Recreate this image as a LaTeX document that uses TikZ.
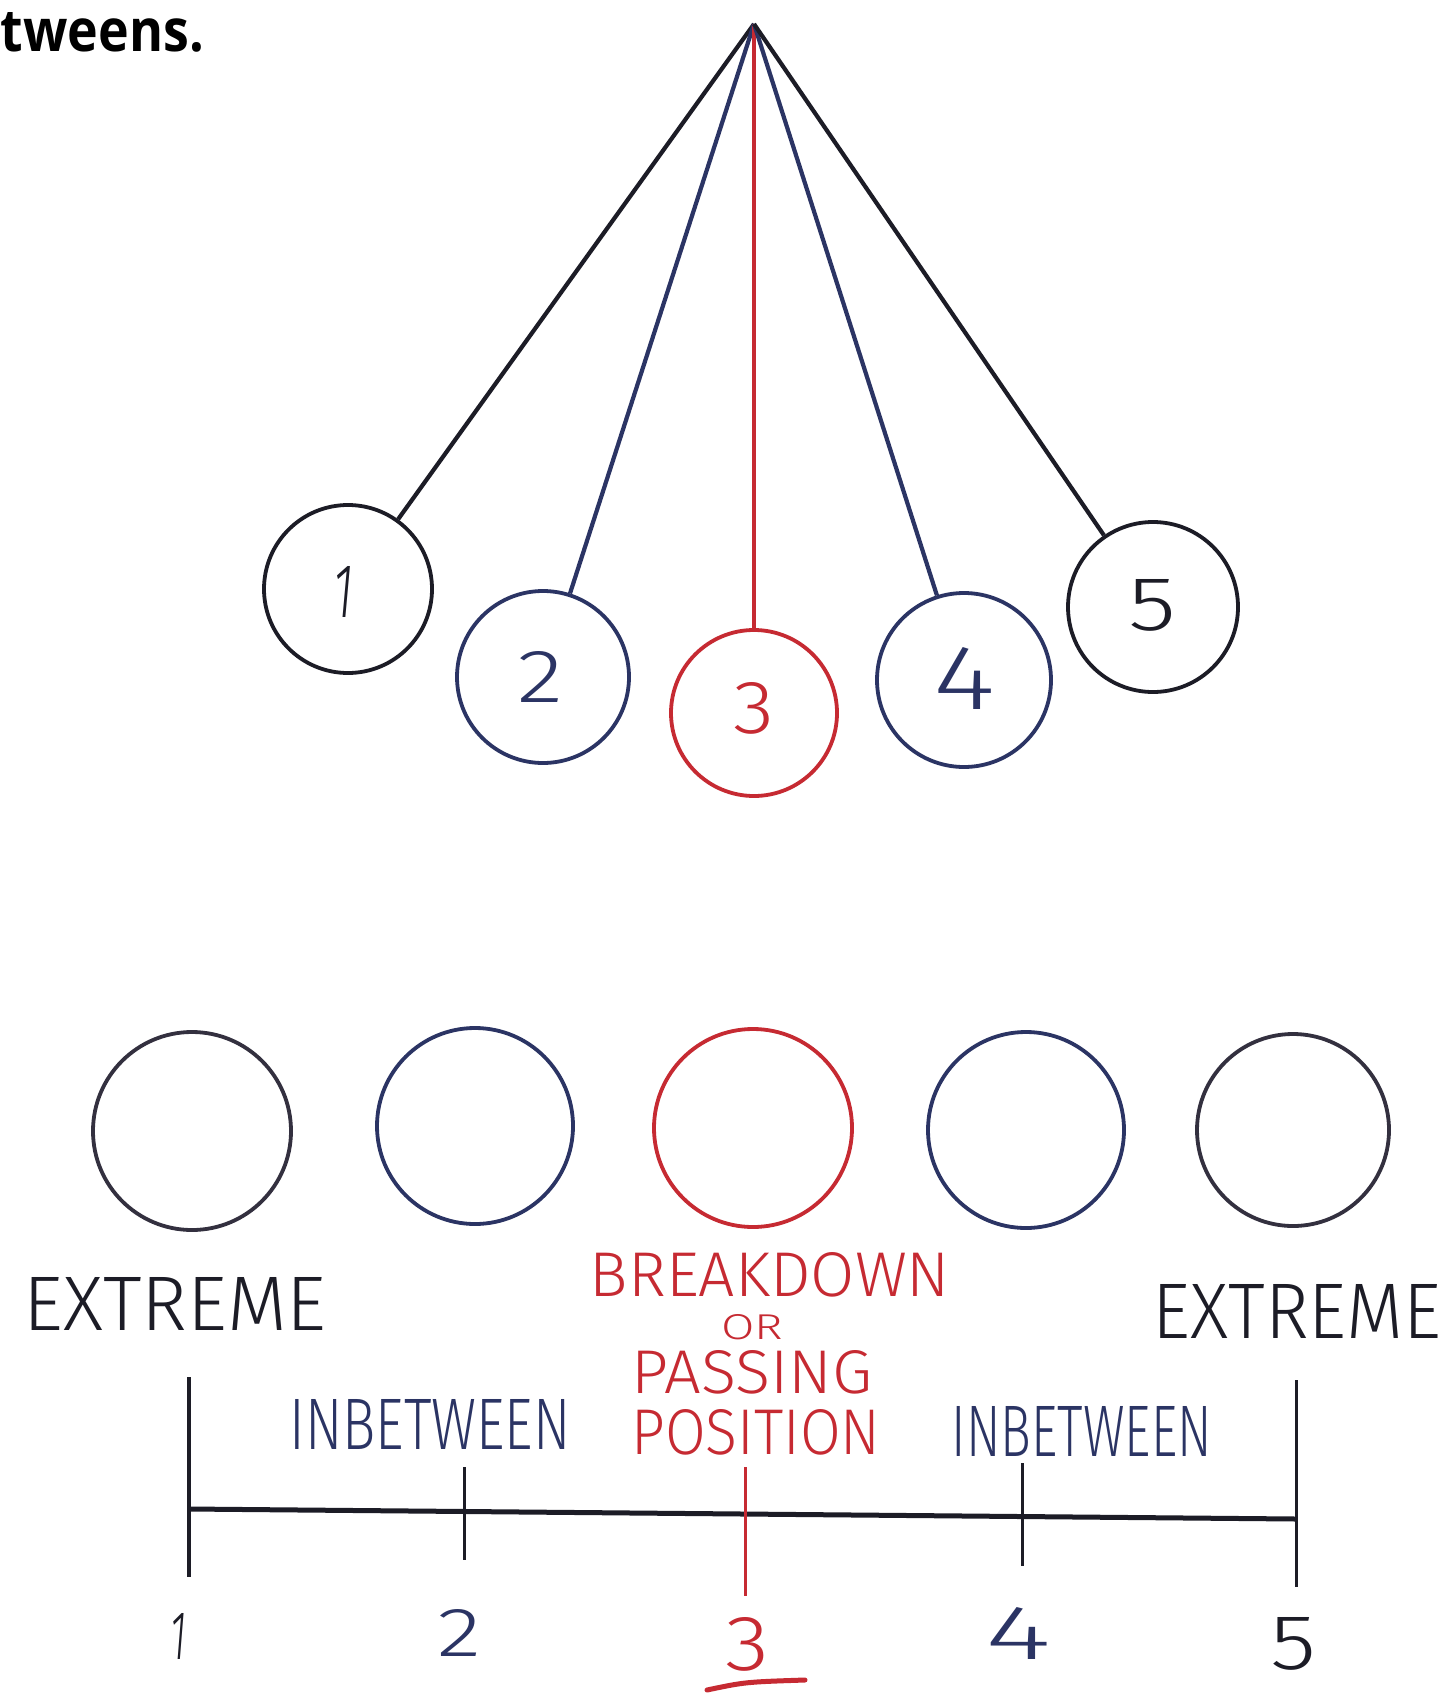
\documentclass[tikz,border=0pt]{standalone}
\usepackage{fontspec}
\newfontfamily\hand{Fira Sans}[UprightFont=* Light, ItalicFont=* Light Italic]
\newfontfamily\bodyfont{Open Sans}
\definecolor{pblack}{HTML}{1C1C26}
\definecolor{pnavy}{HTML}{2B3464}
\definecolor{pred}{HTML}{C62A32}
\definecolor{pgrey}{HTML}{33303F}
\newcommand{\fitbox}[3]{\resizebox{#1pt}{#2pt}{\hand #3}}
\begin{document}
\begin{tikzpicture}[x=1pt,y=-1pt,
  ball/.style={circle, draw, line width=3.8pt, inner sep=0pt},
  cord/.style={line width=4.2pt},
  lab/.style={inner sep=0pt, outer sep=0pt},
  tick/.style={line width=3pt}]
\useasboundingbox (0,0) rectangle (1447,1693);
\fill[white] (0,0) rectangle (1447,1693);
% caption fragment
\node[lab, anchor=south west] (cap) at (1,52) {\resizebox{203pt}{39pt}{\bodyfont\bfseries tweens.}};
% pendulum
\coordinate (pv) at (754,24);
\node[ball, draw=pblack, text=pblack, minimum size=168pt] (b1) at (348,589) {};
\node[ball, draw=pnavy, text=pnavy, minimum size=172pt] (b2) at (543,677) {};
\node[ball, draw=pred, text=pred, minimum size=166pt] (b3) at (754,713) {};
\node[ball, draw=pnavy, text=pnavy, minimum size=174pt] (b4) at (964,680) {};
\node[ball, draw=pblack, text=pblack, minimum size=170pt] (b5) at (1153,607) {};
\draw[cord, pblack] (pv) -- (b1);
\draw[cord, pnavy] (pv) -- (b2);
\draw[cord, pred] (pv) -- (b3);
\draw[cord, pnavy] (pv) -- (b4);
\draw[cord, pblack] (pv) -- (b5);
\node[lab, text=pblack] (n1) at (343,592) {\fitbox{20}{51}{\itshape 1}};
\node[lab, text=pnavy] (n2) at (540,677) {\fitbox{46}{51}{2}};
\node[lab, text=pred] (n3) at (754,708) {\fitbox{41}{51}{3}};
\node[lab, text=pnavy] (n4) at (964,678) {\fitbox{62}{62}{4}};
\node[lab, text=pblack] (n5) at (1152,605) {\fitbox{48}{51}{5}};
% row of circles
\node[ball, draw=pgrey, minimum size=198pt] (c1) at (192,1131) {};
\node[ball, draw=pnavy, minimum size=196pt] (c2) at (475,1126) {};
\node[ball, draw=pred, minimum size=198pt] (c3) at (753,1128) {};
\node[ball, draw=pnavy, minimum size=196pt] (c4) at (1026,1130) {};
\node[ball, draw=pgrey, minimum size=192pt] (c5) at (1293,1130) {};
% labels
\node[lab, text=pblack] (ex1) at (175,1304) {\fitbox{303}{53}{EXTREME}};
\node[lab, text=pblack] (ex2) at (1297,1311) {\fitbox{289}{54}{EXTREME}};
\node[lab, text=pred] (bd) at (770,1275) {\fitbox{360}{44}{BREAKDOWN}};
\node[lab, text=pred] (or) at (752,1327) {\fitbox{62}{25}{OR}};
\node[lab, text=pred] (pa) at (752,1372) {\fitbox{241}{43}{PASSING}};
\node[lab, text=pred] (po) at (756,1432) {\fitbox{249}{45}{POSITION}};
\node[lab, text=pnavy] (ib1) at (430,1424) {\fitbox{281}{50}{INBETWEEN}};
\node[lab, text=pnavy] (ib2) at (1082,1431) {\fitbox{260}{50}{INBETWEEN}};
% timeline
\coordinate (tl) at (189,1509);
\coordinate (tr) at (1296,1519);
\draw[line width=5pt, pblack] (tl) -- (tr);
\coordinate (t1a) at (189,1377); \coordinate (t1b) at (189,1577);
\coordinate (t2a) at (464,1467); \coordinate (t2b) at (464,1560);
\coordinate (t3a) at (745,1467); \coordinate (t3b) at (745,1596);
\coordinate (t4a) at (1022,1463); \coordinate (t4b) at (1022,1566);
\coordinate (t5a) at (1296,1380); \coordinate (t5b) at (1296,1587);
\draw[tick, pblack, line width=4pt] (t1a) -- (t1b);
\draw[tick, pblack] (t2a) -- (t2b);
\draw[tick, pred] (t3a) -- (t3b);
\draw[tick, pblack] (t4a) -- (t4b);
\draw[tick, pblack] (t5a) -- (t5b);
% numbers
\node[lab, text=pblack] (m1) at (178,1636) {\fitbox{16}{46}{\itshape 1}};
\node[lab, text=pnavy] (m2) at (459,1633) {\fitbox{44}{47}{2}};
\node[lab, text=pred] (m3) at (747,1644) {\fitbox{44}{53}{3}};
\node[lab, text=pnavy] (m4) at (1018,1633) {\fitbox{66}{52}{4}};
\node[lab, text=pblack] (m5) at (1293,1644) {\fitbox{46}{52}{5}};
\draw[pred, line width=5pt, line cap=round] (707,1690) .. controls (745,1682) .. (805,1680);
\end{tikzpicture}
\end{document}
